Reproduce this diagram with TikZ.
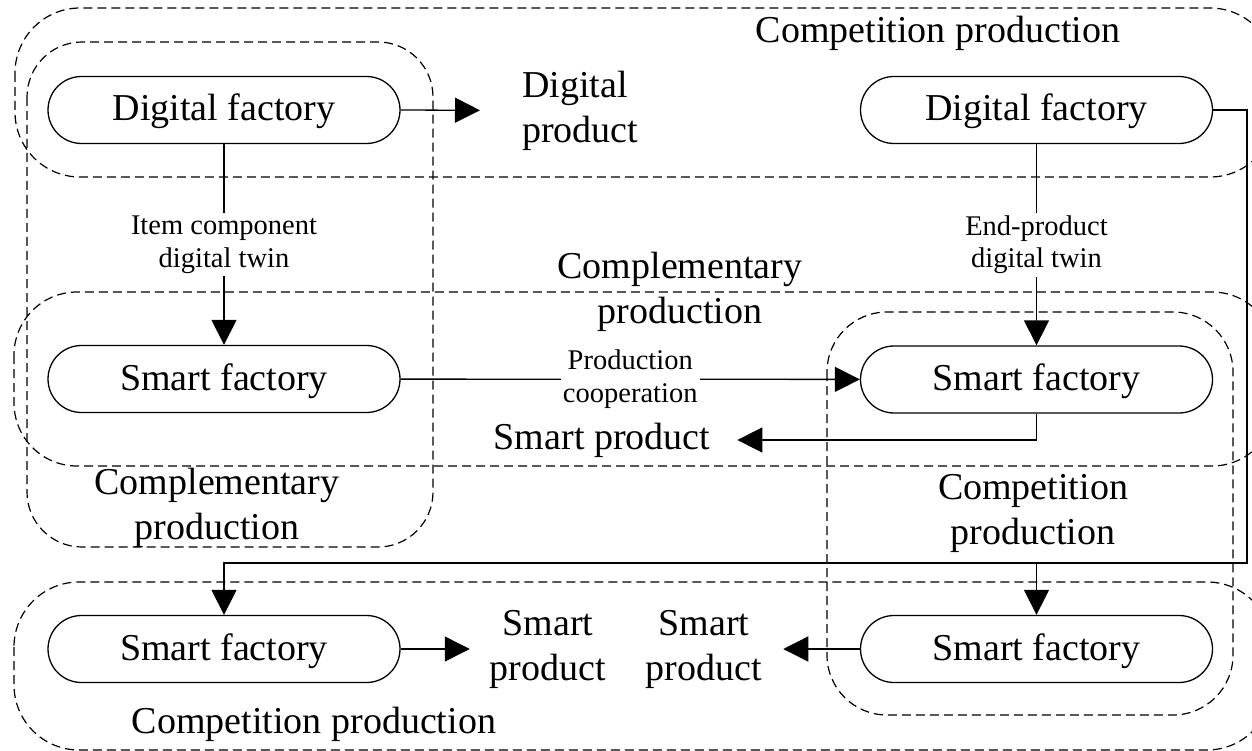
\documentclass[tikz,border=0pt]{standalone}
\usepackage{fontspec}
\setmainfont{Liberation Serif}
\usetikzlibrary{arrows.meta}
\newcommand\fbig{\fontsize{38}{45}\selectfont}
\newcommand\fsmall{\fontsize{28.5}{32.5}\selectfont}
\begin{document}
\begin{tikzpicture}[x=1pt,y=-1pt,
  fac/.style={draw,line width=1.3pt,rounded corners=33.5pt,minimum width=352pt,minimum height=67pt,inner sep=0pt,text height=28pt,text depth=6pt,font=\fbig},
  grp/.style={draw,line width=1.2pt,dash pattern=on 9pt off 5pt},
  arr/.style={line width=1.3pt,-{Triangle[length=25pt,width=25pt]}},
  ln/.style={line width=1.3pt},
  txt/.style={inner sep=0pt,font=\fbig,align=center},
  lbl/.style={fill=white,inner sep=3pt,font=\fsmall,align=center}]
\useasboundingbox (0,0) rectangle (1252,751);
\clip (0,0) rectangle (1252,751);

% dashed groups
\draw[grp,rounded corners=65pt] (15,8) rectangle (1275,177);
\draw[grp,rounded corners=55pt] (27,42) rectangle (433,547);
\draw[grp,rounded corners=63pt] (14,292) rectangle (1275,466);
\draw[grp,rounded corners=60pt] (827,312) rectangle (1233,715);
\draw[grp,rounded corners=65pt] (14,582) rectangle (1272,750);

% group labels
\node[txt] (gA) at (938,33) {Competition production};
\node[txt] (gB) at (217,508) {Complementary\\production};
\node[txt] (gC) at (680,292) {Complementary\\production};
\node[txt] (gD) at (1033,513) {Competition\\production};
\node[txt] (gE) at (314,724) {Competition production};

% factories
\node[fac] (df1) at (224,110) {Digital factory};
\node[fac] (df2) at (1036.5,110) {Digital factory};
\node[fac] (sf1) at (224,379) {Smart factory};
\node[fac] (sf2) at (1036.5,379.5) {Smart factory};
\node[fac] (sf3) at (224,649) {Smart factory};
\node[fac] (sf4) at (1036.5,649) {Smart factory};

% product texts
\node[txt,align=left,anchor=west] (dp1) at (522,110.5) {Digital\\product};
\node[txt] (sp2) at (602,440) {Smart product};
\node[txt] (sp3) at (548,649) {Smart\\product};
\node[txt] (sp4) at (704,649) {Smart\\product};

% connectors
\draw[arr,shorten >=42pt] (df1.east) -- (dp1.west);
\draw[arr] (df1) -- (sf1) node[midway,lbl] {Item component\\digital twin};
\draw[arr] (df2) -- (sf2) node[midway,lbl] {End-product\\digital twin};
\draw[arr] (sf1) -- (sf2) node[midway,lbl,inner xsep=2pt] {Production\\cooperation};
\draw[arr,shorten >=27pt] (sf2.south) |- (sp2.east);
\draw[arr,shorten >=20pt] (sf3.east) -- (sp3.west);
\draw[arr,shorten >=21pt] (sf4.west) -- (sp4.east);

\coordinate (bus) at (1247,563);
\coordinate (br) at (1036.5,563);
\draw[arr] (df2.east) -| (bus) -| (sf3.north);
\draw[arr] (br) -- (sf4.north);
\end{tikzpicture}
\end{document}
